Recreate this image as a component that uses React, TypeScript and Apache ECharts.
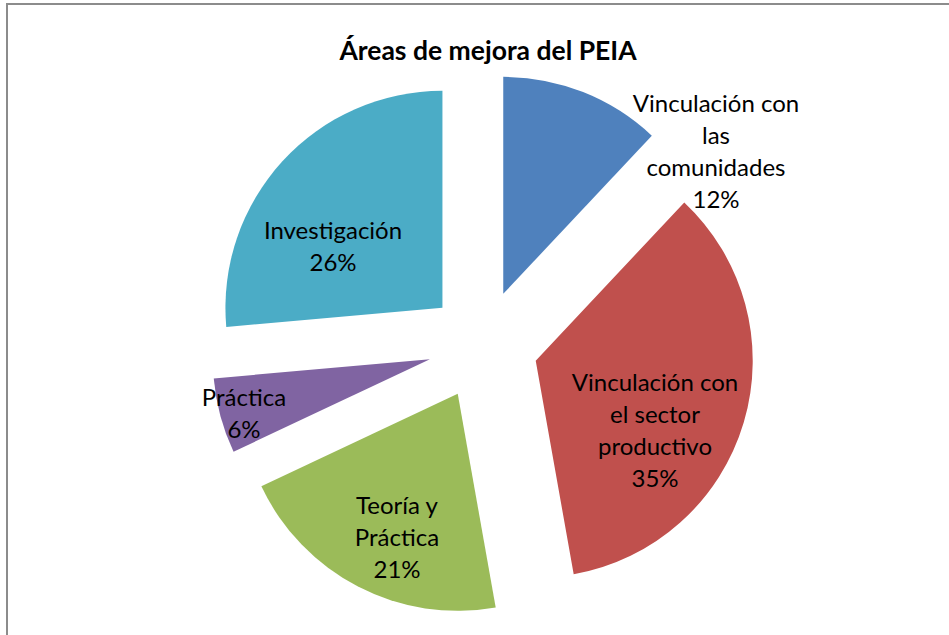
import React, { useEffect, useRef } from "react";
import * as echarts from "echarts";

const titleText = "Áreas de mejora del PEIA";
const categories = [
  "Vinculación con las comunidades",
  "Vinculación con el sector productivo",
  "Teoría y Práctica",
  "Práctica",
  "Investigación",
];
// wrapped label lines as shown in the chart
const labelLines = [
  ["Vinculación con", "las", "comunidades"],
  ["Vinculación con", "el sector", "productivo"],
  ["Teoría y", "Práctica"],
  ["Práctica"],
  ["Investigación"],
];
// estimated counts (12%, 35%, 21%, 6%, 26%)
const values = [15, 44, 26, 7, 33];
const colors = ["#4F81BD", "#C0504D", "#9BBB59", "#8064A2", "#4BACC6"];
// label anchor positions (layout only)
const labelPos: [number, number][] = [
  [716, 150],
  [655, 429],
  [397, 536],
  [244, 412],
  [333, 245],
];

export default function App() {
  const ref = useRef<HTMLDivElement>(null);
  useEffect(() => {
    if (!ref.current) return;
    const chart = echarts.init(ref.current, undefined, { renderer: "svg" });
    const font = "Lato, 'Liberation Sans', sans-serif";
    const total = values.reduce((a, b) => a + b, 0);
    const labelGraphics = categories.map((_, i) => ({
      type: "text",
      x: labelPos[i][0],
      y: labelPos[i][1],
      silent: true,
      z: 100,
      style: {
        text: [...labelLines[i], Math.round((values[i] / total) * 100) + "%"].join("\n"),
        font: `24px ${font}`,
        fill: "#000",
        textAlign: "center",
        textVerticalAlign: "middle",
        lineHeight: 32,
      },
    }));
    chart.setOption({
      animation: false,
      backgroundColor: "#ffffff",
      title: {
        text: titleText,
        left: 483,
        textAlign: "center",
        top: 31,
        textStyle: { fontFamily: font, fontWeight: "bold", fontSize: 26.5, color: "#000" },
      },
      graphic: [
        {
          type: "rect",
          shape: { x: 7, y: 4, width: 1000, height: 700 },
          style: { fill: "none", stroke: "#8c8c8c", lineWidth: 2 },
          silent: true,
        },
        ...labelGraphics,
      ],
      series: [
        {
          type: "pie",
          center: [483, 345],
          radius: [0, 217],
          startAngle: 90,
          clockwise: true,
          selectedMode: "multiple",
          selectedOffset: 55,
          avoidLabelOverlap: false,
          emphasis: { disabled: true },
          label: { show: false },
          labelLine: { show: false },
          data: categories.map((c, i) => ({
            name: c,
            value: values[i],
            selected: true,
            itemStyle: { color: colors[i] },
          })),
        },
      ],
    });
    return () => chart.dispose();
  }, []);
  return (
    <div
      ref={ref}
      style={{ position: "fixed", left: 0, top: 0, width: 949, height: 635 }}
    />
  );
}
